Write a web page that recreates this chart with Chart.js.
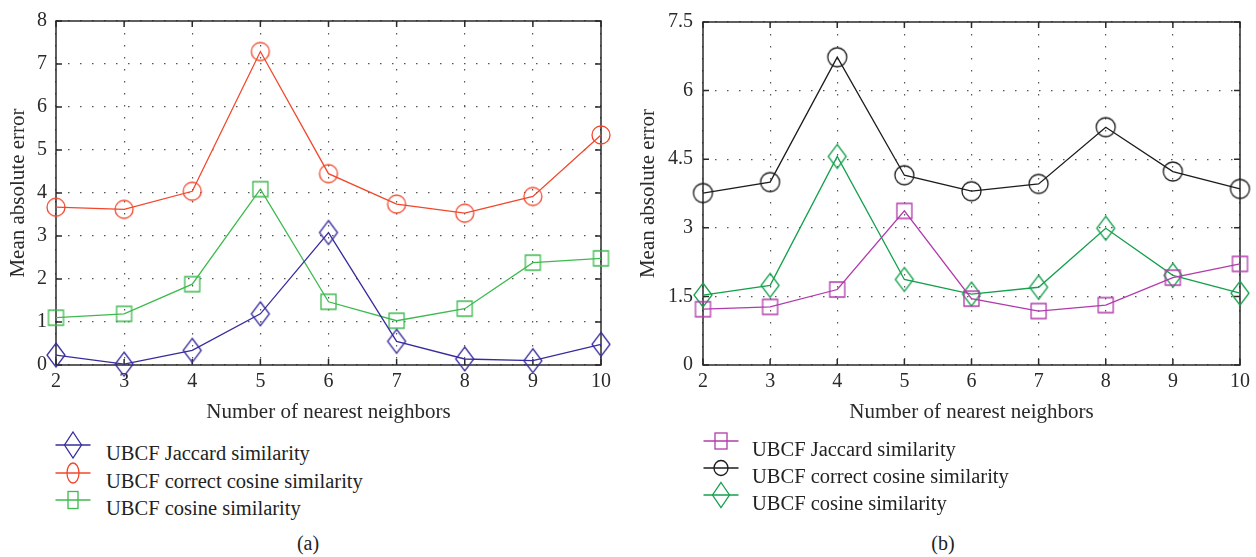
<!DOCTYPE html>
<html><head><meta charset="utf-8">
<script src="https://cdn.jsdelivr.net/npm/chart.js@4"></script>
<style>
body{margin:0;background:#fff;width:1256px;height:557px;overflow:hidden;position:relative;font-family:"Liberation Serif",serif;color:#222}
canvas{position:absolute;top:0}
#ca{left:0}
#cb{left:630px}
.row{position:absolute;white-space:nowrap;font-size:20.5px;line-height:24px;height:24px;transform:translateY(-50%)}
.row svg{position:absolute;top:-8px}
.cap{position:absolute;font-size:20px;line-height:24px;transform:translate(-50%,-50%)}
</style></head><body>
<canvas id="ca" width="640" height="430"></canvas>
<canvas id="cb" width="626" height="430"></canvas>
<div id="lega"></div>
<div id="legb"></div>
<div class="cap" style="left:308px;top:543px">(a)</div>
<div class="cap" style="left:943px;top:543px">(b)</div>
<script>
const neighbors = [2, 3, 4, 5, 6, 7, 8, 9, 10];
const aJaccard = [0.23, 0.02, 0.34, 1.19, 3.08, 0.55, 0.14, 0.10, 0.48];
const aCorrect = [3.67, 3.62, 4.04, 7.29, 4.45, 3.74, 3.53, 3.92, 5.35];
const aCosine  = [1.10, 1.19, 1.88, 4.09, 1.47, 1.03, 1.31, 2.38, 2.48];
const bJaccard = [1.22, 1.27, 1.65, 3.37, 1.45, 1.18, 1.31, 1.91, 2.21];
const bCorrect = [3.76, 4.00, 6.73, 4.15, 3.80, 3.96, 5.20, 4.23, 3.85];
const bCosine  = [1.53, 1.74, 4.56, 1.87, 1.55, 1.70, 2.99, 1.96, 1.57];
const aYTicks = [0, 1, 2, 3, 4, 5, 6, 7, 8];
const bYTicks = [0, 1.5, 3, 4.5, 6, 7.5];
const seriesNames = ['UBCF Jaccard similarity', 'UBCF correct cosine similarity', 'UBCF cosine similarity'];

const FONT = '"Liberation Serif", serif';

function marker(shape, color, w, h) {
  const c = document.createElement('canvas');
  c.width = w + 4; c.height = h + 4;
  const g = c.getContext('2d');
  g.strokeStyle = color; g.lineWidth = 1.3;
  const cx = c.width / 2, cy = c.height / 2;
  g.beginPath();
  if (shape === 'circle') g.ellipse(cx, cy, w / 2, h / 2, 0, 0, Math.PI * 2);
  else if (shape === 'square') g.rect(cx - w / 2, cy - h / 2, w, h);
  else { g.moveTo(cx, cy - h / 2); g.lineTo(cx + w / 2, cy); g.lineTo(cx, cy + h / 2); g.lineTo(cx - w / 2, cy); g.closePath(); }
  g.stroke();
  return c;
}

const framePlugin = {
  id: 'frame',
  beforeDatasetsDraw(chart) {
    const {ctx, chartArea: {left, right, top, bottom}, scales: {x, y}} = chart;
    ctx.save();
    ctx.strokeStyle = '#2a2a2a'; ctx.lineWidth = 1.5;
    ctx.strokeRect(left, top, right - left, bottom - top);
    ctx.beginPath();
    x.ticks.forEach(t => { const p = x.getPixelForValue(t.value); ctx.moveTo(p, bottom); ctx.lineTo(p, bottom - 6); ctx.moveTo(p, top); ctx.lineTo(p, top + 6); });
    y.ticks.forEach(t => { const p = y.getPixelForValue(t.value); ctx.moveTo(left, p); ctx.lineTo(left + 6, p); ctx.moveTo(right, p); ctx.lineTo(right - 6, p); });
    ctx.stroke();
    ctx.restore();
  }
};

function ds(label, vals, color, style) {
  return {
    label, data: neighbors.map((n, i) => ({x: n, y: vals[i]})),
    borderColor: color, borderWidth: 1.3, pointStyle: style, pointRadius: 10,
    pointHoverRadius: 10, tension: 0, fill: false, clip: false
  };
}

function makeChart(id, datasets, yTicks, yMax, yWidth, yPad, padRight) {
  new Chart(document.getElementById(id), {
    type: 'line',
    data: {datasets},
    options: {
      responsive: false, animation: false, events: [],
      layout: {padding: {left: 0, right: padRight, top: 17, bottom: 0}},
      plugins: {legend: {display: false}, tooltip: {enabled: false}},
      scales: {
        x: {
          type: 'linear', min: 2, max: 10,
          afterBuildTicks: s => { s.ticks = neighbors.map(v => ({value: v})); },
          afterFit: s => { s.height = 65; },
          ticks: {font: {family: FONT, size: 20}, color: '#2a2a2a', padding: 5, maxRotation: 0},
          grid: {color: '#555', lineWidth: 1.2, drawTicks: false},
          border: {display: false, dash: [1.5, 10.5]},
          title: {display: true, text: 'Number of nearest neighbors', font: {family: FONT, size: 21}, color: '#2a2a2a', padding: {top: 0, bottom: 5.4}}
        },
        y: {
          min: 0, max: yMax,
          afterBuildTicks: s => { s.ticks = yTicks.map(v => ({value: v})); },
          afterFit: s => { s.width = yWidth; },
          ticks: {font: {family: FONT, size: 20}, color: '#2a2a2a', padding: yPad, callback: v => String(v)},
          grid: {color: '#555', lineWidth: 1.2, drawTicks: false},
          border: {display: false, dash: [1.5, 10.5]},
          title: {display: true, text: 'Mean absolute error', font: {family: FONT, size: 21}, color: '#2a2a2a', padding: {top: 5.4, bottom: 0}}
        }
      }
    },
    plugins: [framePlugin]
  });
}

const colA = ['#372c9e', '#f2472b', '#3dba4e'];
const colB = ['#b23aab', '#1c1c1c', '#14a04c'];

makeChart('ca', [
  ds(seriesNames[0], aJaccard, colA[0], marker('diamond', colA[0], 18, 24)),
  ds(seriesNames[1], aCorrect, colA[1], marker('circle', colA[1], 18, 18)),
  ds(seriesNames[2], aCosine, colA[2], marker('square', colA[2], 15, 15))
], aYTicks, 8, 56, 9, 39);

makeChart('cb', [
  ds(seriesNames[0], bJaccard, colB[0], marker('square', colB[0], 15, 15)),
  ds(seriesNames[1], bCorrect, colB[1], marker('circle', colB[1], 19, 19)),
  ds(seriesNames[2], bCosine, colB[2], marker('diamond', colB[2], 18, 24))
], bYTicks, 7.5, 73, 10, 16);

function symSvg(shape, color, w, h) {
  let s = '';
  if (shape === 'circle') s = `<ellipse cx="18" cy="14" rx="${w/2}" ry="${h/2}" fill="none" stroke="${color}" stroke-width="1.3"/>`;
  else if (shape === 'square') s = `<rect x="${18-w/2}" y="${14-h/2}" width="${w}" height="${h}" fill="none" stroke="${color}" stroke-width="1.3"/>`;
  else s = `<path d="M18 ${14-h/2} L${18+w/2} 14 L18 ${14+h/2} L${18-w/2} 14 Z" fill="none" stroke="${color}" stroke-width="1.3"/>`;
  return `<svg width="36" height="28" viewBox="0 0 36 28"><line x1="0.5" y1="14" x2="35.5" y2="14" stroke="${color}" stroke-width="1.3"/>${s}</svg>`;
}

function legend(id, x0, textX, ys, shapes, colors) {
  const el = document.getElementById(id);
  seriesNames.forEach((name, i) => {
    const r = document.createElement('div');
    r.className = 'row';
    r.style.left = x0 + 'px'; r.style.top = ys[i] + 'px';
    r.innerHTML = `<span style="position:absolute;left:0;top:-2px">${symSvg(shapes[i][0], colors[i], shapes[i][1], shapes[i][2])}</span><span style="position:absolute;left:${textX - x0}px;top:0">${name}</span>`;
    el.appendChild(r);
  });
}
legend('lega', 55, 106, [453, 481, 508], [['diamond', 17, 26], ['circle', 12, 20], ['square', 10, 17]], colA);
legend('legb', 703, 752, [449, 476, 503], [['square', 12, 16], ['circle', 14, 15], ['diamond', 17, 25]], colB);
</script>
</body></html>
